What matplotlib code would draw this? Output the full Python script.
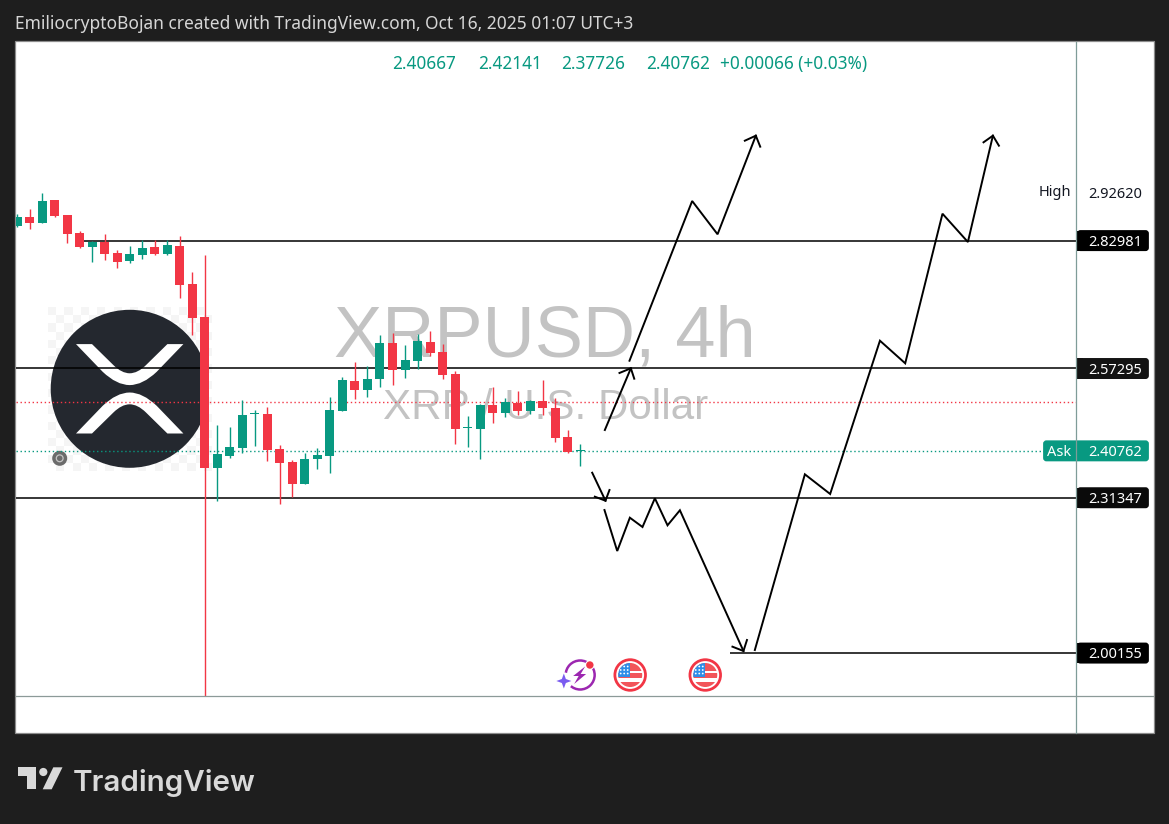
import numpy as np
import matplotlib
matplotlib.use('Agg')
import matplotlib.pyplot as plt
from matplotlib.patches import Circle, Rectangle, FancyBboxPatch, Polygon, PathPatch
from matplotlib.path import Path
from matplotlib.transforms import blended_transform_factory

# 4h candles (the last one from the OHLC row)
opens = [2.859, 2.877, 2.865, 2.911, 2.881, 2.845, 2.817, 2.827, 2.805, 2.789, 2.801, 2.817, 2.803,
         2.819, 2.743, 2.676, 2.373, 2.397, 2.413, 2.481, 2.482, 2.411, 2.385, 2.341, 2.391, 2.397,
         2.488, 2.548, 2.530, 2.552, 2.624, 2.570, 2.588, 2.626, 2.606, 2.562, 2.453, 2.451, 2.500,
         2.484, 2.504, 2.488, 2.508, 2.494, 2.435, 2.40667]
highs = [2.883, 2.893, 2.925, 2.911, 2.881, 2.849, 2.829, 2.843, 2.811, 2.819, 2.831, 2.831, 2.831,
         2.839, 2.767, 2.801, 2.460, 2.456, 2.510, 2.490, 2.496, 2.419, 2.389, 2.403, 2.413, 2.516,
         2.556, 2.586, 2.578, 2.640, 2.644, 2.620, 2.642, 2.648, 2.622, 2.568, 2.478, 2.502, 2.536,
         2.514, 2.528, 2.510, 2.550, 2.514, 2.449, 2.42141]
lows = [2.857, 2.853, 2.865, 2.877, 2.825, 2.815, 2.787, 2.791, 2.775, 2.785, 2.793, 2.801, 2.801,
        2.715, 2.640, 1.915, 2.307, 2.393, 2.403, 2.417, 2.387, 2.301, 2.315, 2.341, 2.371, 2.363,
        2.488, 2.512, 2.516, 2.536, 2.540, 2.554, 2.572, 2.598, 2.552, 2.421, 2.415, 2.391, 2.464,
        2.476, 2.480, 2.482, 2.480, 2.425, 2.403, 2.37726]
closes = [2.877, 2.865, 2.909, 2.879, 2.843, 2.817, 2.827, 2.803, 2.787, 2.803, 2.815, 2.803, 2.821,
          2.741, 2.674, 2.373, 2.401, 2.415, 2.480, 2.481, 2.409, 2.383, 2.341, 2.391, 2.399, 2.490,
          2.550, 2.530, 2.552, 2.624, 2.570, 2.590, 2.628, 2.604, 2.560, 2.451, 2.453, 2.500, 2.484,
          2.506, 2.488, 2.508, 2.494, 2.433, 2.405, 2.40762]

# drawn levels: price, first bar
level_prices = [2.82981, 2.57295, 2.31347, 2.00155]
level_starts = [5.3, -1, -1, 57]
level_labels = ['2.82981', '2.57295', '2.31347', '2.00155']
ask_price = 2.40762
bid_price = 2.5049
high_price = 2.92
ohlc_texts = ['2.40667', '2.42141', '2.37726', '2.40762', '+0.00066 (+0.03%)']
ohlc_x = [392, 478, 561, 646, 720]

# hand drawn scenario lines: bar index, price
up1_x = [46.95, 49.03]
up1_y = [2.4493, 2.5732]
up1_head_x = [48.12, 49.03, 49.30]
up1_head_y = [2.5638, 2.5732, 2.5523]
up2_x = [48.92, 53.93, 55.96, 59.02]
up2_y = [2.5884, 2.9091, 2.8423, 3.0403]
up2_head_x = [58.14, 59.02, 59.37]
up2_head_y = [3.0302, 3.0403, 3.0182]
dn1_x = [45.94, 47.00]
dn1_y = [2.3635, 2.3073]
dn1_head_x = [46.15, 47.00, 47.32]
dn1_head_y = [2.3154, 2.3073, 2.3288]
dn2_x = [46.92, 47.94, 48.95, 49.96, 50.95, 51.96, 52.95, 58.03]
dn2_y = [2.2886, 2.2063, 2.2732, 2.2545, 2.3122, 2.2579, 2.2881, 2.0055]
dn2_head_x = [57.15, 58.03, 58.31]
dn2_head_y = [2.0142, 2.0055, 2.0276]
big_x = [58.94, 62.94, 64.96, 68.94, 70.96, 73.94, 75.97, 77.97]
big_y = [2.0075, 2.3603, 2.3208, 2.6286, 2.5832, 2.8836, 2.8268, 3.0403]
big_head_x = [77.22, 77.97, 78.45]
big_head_y = [3.0270, 3.0403, 3.0202]

flag_bars = [49, 55]
bolt_bar = 45

GREEN = '#089981'
RED = '#f23645'
DARK = '#1e1e1e'
TEXT_FONT = ['Noto Sans', 'DejaVu Sans']

W, H = 1169, 824
BAR0, BAR_STEP = 17.2, 12.51
PRICE0, PRICE_Y0, PX_PER_UNIT = 2.82981, 240.5, 498.0


def price_at(y):
    return PRICE0 - (y - PRICE_Y0) / PX_PER_UNIT


def bar_px(i):
    return BAR0 + BAR_STEP * i


fig = plt.figure(figsize=(W / 100, H / 100), dpi=100, facecolor=DARK)

# pixel layer behind the candles: frame, logo, watermark
bg = fig.add_axes([0, 0, 1, 1])
bg.set_xlim(0, W)
bg.set_ylim(H, 0)
bg.axis('off')
bg.add_patch(Rectangle((15, 41), 1138.5, 692, fc='white', ec='#8c8c8c', lw=0.9))

# checker behind the coin logo
for r in range(20):
    for c in range(20):
        if (r + c) % 2 == 0:
            bg.add_patch(Rectangle((48 + c * 8.2, 307 + r * 8.2), 8.2, 8.2, fc='#f5f5f5', ec='none'))
bg.add_patch(Circle((129.7, 388.8), 79, fc='#24282f', ec='none'))


def xrp_band(s):
    # one half of the XRP mark around the centre line of the coin, s=-1 upper, s=1 lower
    cx, cy = 129.7, 388.8
    pts = [(-53.7, 44.7), (-37.7, 44.7), (-16.3, 23.7), (-8, 15.5), (0, 15.5), (8, 15.5), (16.3, 23.7),
           (37.7, 44.7), (53.7, 44.7), (27, 17), (13, 3.7), (0, 3.7), (-13, 3.7), (-27, 17), (-53.7, 44.7)]
    verts = [(cx + a, cy + s * b) for a, b in pts]
    codes = [Path.MOVETO, Path.LINETO, Path.LINETO, Path.CURVE3, Path.CURVE3, Path.CURVE3, Path.CURVE3,
             Path.LINETO, Path.LINETO, Path.LINETO, Path.CURVE3, Path.CURVE3, Path.CURVE3, Path.CURVE3, Path.LINETO]
    return Path(verts, codes)


for s in (-1, 1):
    bg.add_patch(PathPatch(xrp_band(s), fc='white', ec='none'))
bg.add_patch(Circle((59.7, 458.3), 7.5, fc='#6b6b6b', ec='none'))
bg.add_patch(Circle((59.7, 458.3), 3.4, fc='none', ec='#c4c4c4', lw=0.9))

bg.text(545, 338, 'XRPUSD, 4h', color='#c3c3c3', fontsize=52, family='Liberation Sans', ha='center', va='center')
bg.text(546, 407.5, 'XRP / U.S. Dollar', color='#c3c3c3', fontsize=30.3, family='Liberation Sans', ha='center', va='center')

# price pane
ax = fig.add_axes([16 / W, 1 - 696 / H, 1060 / W, 654 / H])
ax.patch.set_alpha(0)
ax.set_xlim((16 - BAR0) / BAR_STEP, (1076 - BAR0) / BAR_STEP)
ax.set_ylim(price_at(696), price_at(42))
ax.axis('off')

for p, start in zip(level_prices, level_starts):
    ax.plot([start, 100], [p, p], color='black', lw=1.1, zorder=2, solid_capstyle='butt')
ax.axhline(bid_price, color=RED, lw=1.0, ls=(0, (1, 1.9)), zorder=2)
ax.axhline(ask_price, color=GREEN, lw=1.0, ls=(0, (1, 1.9)), zorder=2)

idx = np.arange(len(opens))
op, hi, lo, cl = map(np.array, (opens, highs, lows, closes))
colors = [GREEN if c >= o else RED for o, c in zip(op, cl)]
ax.vlines(idx, lo, hi, colors=colors, lw=1.0, zorder=3)
ax.bar(idx, np.maximum(np.abs(cl - op), 0.002), bottom=np.minimum(op, cl), width=9 / BAR_STEP,
       color=colors, linewidth=0, zorder=4)

for xs, ys in [(up1_x, up1_y), (up1_head_x, up1_head_y), (up2_x, up2_y), (up2_head_x, up2_head_y),
               (dn1_x, dn1_y), (dn1_head_x, dn1_head_y), (dn2_x, dn2_y), (dn2_head_x, dn2_head_y),
               (big_x, big_y), (big_head_x, big_head_y)]:
    xs = np.array(xs) + 0.024  # lines were read relative to the older bar origin
    ax.plot(xs, ys, color='black', lw=1.4, zorder=5, solid_joinstyle='miter', clip_on=False)

# pixel layer on top: scale labels, events, header
fg = fig.add_axes([0, 0, 1, 1])
fg.patch.set_alpha(0)
fg.set_xlim(0, W)
fg.set_ylim(H, 0)
fg.axis('off')
price_tr = blended_transform_factory(fg.transData, ax.transData)


def price_tag(price, text, fc, left=1077, right=1149):
    y = PRICE_Y0 + (PRICE0 - price) * PX_PER_UNIT
    fg.add_patch(FancyBboxPatch((left + 1.5, y - 9), right - left - 3, 18.2, boxstyle='round,pad=0,rounding_size=2',
                                mutation_aspect=1, fc=fc, ec=fc, lw=2))
    if left == 1077:
        fg.add_patch(Rectangle((left, y - 10), 6, 20.2, fc=fc, ec='none'))
    fg.text(1115, price, text, transform=price_tr, color='white', fontsize=10.5, family=TEXT_FONT,
            fontweight='medium', ha='center', va='center_baseline')


for p, lab, fc in zip(level_prices, level_labels, ['#000000', '#131313', '#0a0a0a', '#000000']):
    price_tag(p, lab, fc)
price_tag(ask_price, '2.40762', GREEN, left=1043)
fg.text(1059, ask_price, 'Ask', transform=price_tr, color='white', fontsize=10.5, family=TEXT_FONT,
        ha='center', va='center_baseline')
fg.text(1055, high_price + 0.0105, 'High', transform=price_tr, color='#131722', fontsize=10.5, family=TEXT_FONT,
        ha='center', va='center_baseline')
fg.text(1115, high_price + 0.0062, '2.92620', transform=price_tr, color='#131722', fontsize=10.5, family=TEXT_FONT,
        ha='center', va='center_baseline')

# scale separators
fg.plot([1076, 1076], [42, 733], color='#7f9c98', lw=0.9, zorder=6)
fg.plot([16, 1153], [695.5, 695.5], color='#8c9a98', lw=0.9, zorder=6)

for tx, s in zip(ohlc_x, ohlc_texts):
    fg.text(tx, 62, s, color=GREEN, fontsize=12.4, family=TEXT_FONT, ha='left', va='center_baseline')
fg.text(15, 22, 'EmiliocryptoBojan created with TradingView.com, Oct 16, 2025 01:07 UTC+3', color='#d6d6d6',
        fontsize=12.5, family=TEXT_FONT, fontweight='medium', ha='left', va='center_baseline')


def flag(cx, cy=675):
    fg.add_patch(Circle((cx, cy), 15.3, fc='white', ec=RED, lw=2))
    disc = Circle((cx, cy), 12, transform=fg.transData, fc='none', ec='none')
    fg.add_patch(disc)
    parts = []
    for y0, y1 in [(-13, -4.3), (-1.7, 3.3), (6.7, 13)]:
        parts.append(Rectangle((cx - 13, cy + y0), 26, y1 - y0, fc='#f2555a', ec='none'))
    parts.append(Rectangle((cx - 13, cy - 13), 13, 15.3, fc='#2f8ee8', ec='none'))
    for p in parts:
        fg.add_patch(p)
        p.set_clip_path(disc)
    for a in (-9.5, -6, -2.5):
        for b in (-8.5, -5, -1.5):
            d = Circle((cx + a, cy + b), 0.9, fc='white', ec='none')
            fg.add_patch(d)
            d.set_clip_path(disc)


for b in flag_bars:
    flag(bar_px(b))

# bolt marker
bx = bar_px(bolt_bar)
fg.add_patch(Circle((bx, 675), 14.5, fc='none', ec='#9c27b0', lw=1.8))
fg.add_patch(Polygon([(bx + 5, 666.5), (bx - 7, 676), (bx - 1.5, 676), (bx - 6, 684), (bx + 6, 674), (bx + 0.5, 674)],
                     closed=True, fc='#9c27b0', ec='none'))
fg.add_patch(Circle((bx - 16, 681), 8.5, fc='white', ec='none'))
star = Path([(bx - 16.3, 673.5), (bx - 14.3, 679), (bx - 8.8, 681), (bx - 14.3, 683), (bx - 16.3, 688.5),
             (bx - 18.3, 683), (bx - 23.8, 681), (bx - 18.3, 679), (bx - 16.3, 673.5)])
fg.add_patch(PathPatch(star, fc='#7a5cf0', ec='none'))
fg.add_patch(Circle((bx + 9.7, 665), 4.8, fc='white', ec='none'))
fg.add_patch(Circle((bx + 9.7, 665), 3.7, fc=RED, ec='none'))

# TradingView mark
LOGO = '#d9d9d9'
fg.add_patch(Polygon([(18, 767.3), (36, 767.3), (36, 789.3), (27, 789.3), (27, 776), (18, 776)], closed=True, fc=LOGO, ec='none'))
fg.add_patch(Circle((43.3, 772), 4.1, fc=LOGO, ec='none'))
fg.add_patch(Polygon([(53.3, 767.3), (62.5, 767.3), (51.7, 789.3), (42.7, 789.3)], closed=True, fc=LOGO, ec='none'))
fg.text(73, 780, 'TradingView', color=LOGO, fontsize=21.3, family=['Inter', 'DejaVu Sans'], fontweight='semibold',
        ha='left', va='center_baseline')

fig.savefig('out.png', dpi=100, facecolor=DARK)
